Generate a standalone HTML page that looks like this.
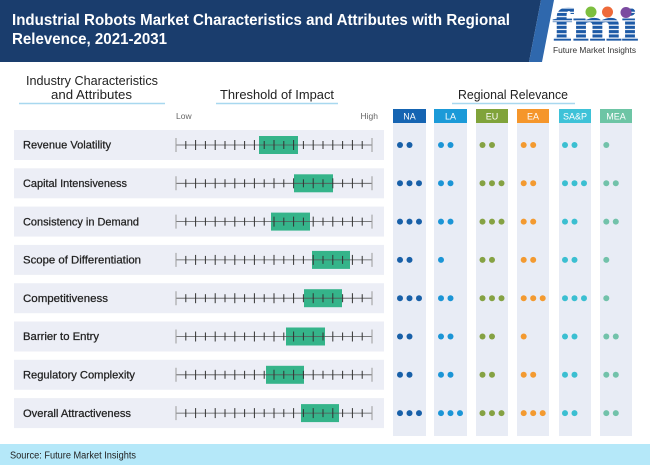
<!DOCTYPE html>
<html><head><meta charset="utf-8"><style>
html,body{margin:0;padding:0;background:#fff;}
svg{display:block;font-family:"Liberation Sans",Arial,sans-serif;}
</style></head><body>
<svg width="650" height="465" viewBox="0 0 650 465" xmlns="http://www.w3.org/2000/svg">
<defs>
<pattern id="stripes" patternUnits="userSpaceOnUse" width="8" height="4.3">
<rect width="8" height="3.2" fill="#1d5aa6"/><rect y="3.2" width="8" height="1.1" fill="#ffffff"/>
</pattern>
<g id="scale">
<line x1="176" y1="0" x2="372" y2="0" stroke="#555" stroke-width="0.8"/>
<line x1="176" y1="-7" x2="176" y2="7" stroke="#9a9a9a" stroke-width="1"/>
<line x1="372" y1="-7" x2="372" y2="7" stroke="#9a9a9a" stroke-width="1"/>
<g stroke="#333" stroke-width="1">
<line x1="185.8" y1="-4" x2="185.8" y2="4"/>
<line x1="195.6" y1="-5" x2="195.6" y2="5"/>
<line x1="205.4" y1="-4" x2="205.4" y2="4"/>
<line x1="215.2" y1="-5" x2="215.2" y2="5"/>
<line x1="225" y1="-4" x2="225" y2="4"/>
<line x1="234.8" y1="-5" x2="234.8" y2="5"/>
<line x1="244.6" y1="-4" x2="244.6" y2="4"/>
<line x1="254.4" y1="-5" x2="254.4" y2="5"/>
<line x1="264.2" y1="-4" x2="264.2" y2="4"/>
<line x1="274" y1="-5" x2="274" y2="5"/>
<line x1="283.8" y1="-4" x2="283.8" y2="4"/>
<line x1="293.6" y1="-5" x2="293.6" y2="5"/>
<line x1="303.4" y1="-4" x2="303.4" y2="4"/>
<line x1="313.2" y1="-5" x2="313.2" y2="5"/>
<line x1="323" y1="-4" x2="323" y2="4"/>
<line x1="332.8" y1="-5" x2="332.8" y2="5"/>
<line x1="342.6" y1="-4" x2="342.6" y2="4"/>
<line x1="352.4" y1="-5" x2="352.4" y2="5"/>
<line x1="362.2" y1="-4" x2="362.2" y2="4"/>
</g>
</g>
</defs>

<!-- Banner -->
<polygon points="0,0 541,0 529,62 0,62" fill="#1a3d6d"/>
<polygon points="541,0 554,0 542,62 529,62" fill="#2f68ad"/>
<text x="12" y="25" font-size="16" font-weight="bold" fill="#ffffff" textLength="498" lengthAdjust="spacingAndGlyphs">Industrial Robots Market Characteristics and Attributes with Regional</text>
<text x="12" y="44" font-size="16" font-weight="bold" fill="#ffffff" textLength="155" lengthAdjust="spacingAndGlyphs">Relevence, 2021-2031</text>

<!-- Logo -->
<text x="553" y="40" font-family="Liberation Serif,serif" font-size="46" font-weight="bold" fill="url(#stripes)" stroke="url(#stripes)" stroke-width="1.2" textLength="85" lengthAdjust="spacingAndGlyphs">fmi</text>
<circle cx="591" cy="12" r="5.5" fill="#7dbf3f"/>
<circle cx="607.5" cy="12" r="5.5" fill="#ee6a3a"/>
<circle cx="626" cy="12.5" r="5.5" fill="#7b4aa0"/>
<text x="553" y="53" font-size="8.5" fill="#333" textLength="83" lengthAdjust="spacingAndGlyphs">Future Market Insights</text>

<!-- Section headings -->
<text x="26" y="85" font-size="13" fill="#222" textLength="132" lengthAdjust="spacingAndGlyphs">Industry Characteristics</text>
<text x="51" y="99" font-size="13" fill="#222" textLength="81" lengthAdjust="spacingAndGlyphs">and Attributes</text>
<line x1="19" y1="103.5" x2="165" y2="103.5" stroke="#a8d8ef" stroke-width="1.5"/>
<text x="220" y="99" font-size="13" fill="#222" textLength="114" lengthAdjust="spacingAndGlyphs">Threshold of Impact</text>
<line x1="216" y1="103.5" x2="338" y2="103.5" stroke="#a8d8ef" stroke-width="1.5"/>
<text x="458" y="99" font-size="13" fill="#222" textLength="110" lengthAdjust="spacingAndGlyphs">Regional Relevance</text>
<line x1="452" y1="103.5" x2="575" y2="103.5" stroke="#a8d8ef" stroke-width="1.5"/>

<text x="176" y="119" font-size="8.5" fill="#666">Low</text>
<text x="378" y="119" font-size="8.5" fill="#666" text-anchor="end">High</text>

<!-- Region columns -->
<g fill="#e8ecf5">
<rect x="393" y="123" width="33" height="313"/>
<rect x="434" y="123" width="33" height="313"/>
<rect x="476" y="123" width="32" height="313"/>
<rect x="517" y="123" width="32" height="313"/>
<rect x="559" y="123" width="32" height="313"/>
<rect x="600" y="123" width="32" height="313"/>
</g>
<rect x="393" y="109" width="33" height="14" fill="#1564b2"/>
<rect x="434" y="109" width="33" height="14" fill="#1b9ad8"/>
<rect x="476" y="109" width="32" height="14" fill="#80a33a"/>
<rect x="517" y="109" width="32" height="14" fill="#f5962b"/>
<rect x="559" y="109" width="32" height="14" fill="#3ec2d8"/>
<rect x="600" y="109" width="32" height="14" fill="#6dc5a5"/>
<g font-size="9" fill="#ffffff" text-anchor="middle">
<text x="409.5" y="119.5">NA</text>
<text x="450.5" y="119.5">LA</text>
<text x="492" y="119.5">EU</text>
<text x="533" y="119.5">EA</text>
<text x="575" y="119.5">SA&amp;P</text>
<text x="616" y="119.5">MEA</text>
</g>

<!-- Rows -->
<g fill="#eceef6">
<rect x="14" y="130" width="370" height="30"/>
<rect x="14" y="168.3" width="370" height="30"/>
<rect x="14" y="206.6" width="370" height="30"/>
<rect x="14" y="244.9" width="370" height="30"/>
<rect x="14" y="283.2" width="370" height="30"/>
<rect x="14" y="321.5" width="370" height="30"/>
<rect x="14" y="359.8" width="370" height="30"/>
<rect x="14" y="398.1" width="370" height="30"/>
</g>

<g font-size="11" fill="#222" stroke="#222" stroke-width="0.25">
<text x="23" y="148.7" textLength="88" lengthAdjust="spacingAndGlyphs">Revenue Volatility</text>
<text x="23" y="187" textLength="104" lengthAdjust="spacingAndGlyphs">Capital Intensiveness</text>
<text x="23" y="225.3" textLength="116" lengthAdjust="spacingAndGlyphs">Consistency in Demand</text>
<text x="23" y="263.6" textLength="118" lengthAdjust="spacingAndGlyphs">Scope of Differentiation</text>
<text x="23" y="301.9" textLength="85" lengthAdjust="spacingAndGlyphs">Competitiveness</text>
<text x="23" y="340.2" textLength="76" lengthAdjust="spacingAndGlyphs">Barrier to Entry</text>
<text x="23" y="378.5" textLength="112" lengthAdjust="spacingAndGlyphs">Regulatory Complexity</text>
<text x="23" y="416.8" textLength="108" lengthAdjust="spacingAndGlyphs">Overall Attractiveness</text>
</g>

<!-- Green boxes -->
<g fill="#35b48a">
<rect x="259" y="136" width="39" height="18"/>
<rect x="294" y="174.3" width="39" height="18"/>
<rect x="271" y="212.6" width="39" height="18"/>
<rect x="312" y="250.9" width="38" height="18"/>
<rect x="304" y="289.2" width="38" height="18"/>
<rect x="286" y="327.5" width="39" height="18"/>
<rect x="266" y="365.8" width="38" height="18"/>
<rect x="301" y="404.1" width="38" height="18"/>
</g>

<!-- Scales -->
<use href="#scale" transform="translate(0,145)"/>
<use href="#scale" transform="translate(0,183.3)"/>
<use href="#scale" transform="translate(0,221.6)"/>
<use href="#scale" transform="translate(0,259.9)"/>
<use href="#scale" transform="translate(0,298.2)"/>
<use href="#scale" transform="translate(0,336.5)"/>
<use href="#scale" transform="translate(0,374.8)"/>
<use href="#scale" transform="translate(0,413.1)"/>

<!-- Dots -->
<g fill="#1860a8">
<circle cx="400" cy="145" r="3"/><circle cx="409.5" cy="145" r="3"/>
<circle cx="400" cy="183.3" r="3"/><circle cx="409.5" cy="183.3" r="3"/><circle cx="419" cy="183.3" r="3"/>
<circle cx="400" cy="221.6" r="3"/><circle cx="409.5" cy="221.6" r="3"/><circle cx="419" cy="221.6" r="3"/>
<circle cx="400" cy="259.9" r="3"/><circle cx="409.5" cy="259.9" r="3"/>
<circle cx="400" cy="298.2" r="3"/><circle cx="409.5" cy="298.2" r="3"/><circle cx="419" cy="298.2" r="3"/>
<circle cx="400" cy="336.5" r="3"/><circle cx="409.5" cy="336.5" r="3"/>
<circle cx="400" cy="374.8" r="3"/><circle cx="409.5" cy="374.8" r="3"/>
<circle cx="400" cy="413.1" r="3"/><circle cx="409.5" cy="413.1" r="3"/><circle cx="419" cy="413.1" r="3"/>
</g>
<g fill="#1b95d6">
<circle cx="441" cy="145" r="3"/><circle cx="450.5" cy="145" r="3"/>
<circle cx="441" cy="183.3" r="3"/><circle cx="450.5" cy="183.3" r="3"/>
<circle cx="441" cy="221.6" r="3"/><circle cx="450.5" cy="221.6" r="3"/>
<circle cx="441" cy="259.9" r="3"/>
<circle cx="441" cy="298.2" r="3"/><circle cx="450.5" cy="298.2" r="3"/>
<circle cx="441" cy="336.5" r="3"/><circle cx="450.5" cy="336.5" r="3"/>
<circle cx="441" cy="374.8" r="3"/><circle cx="450.5" cy="374.8" r="3"/>
<circle cx="441" cy="413.1" r="3"/><circle cx="450.5" cy="413.1" r="3"/><circle cx="460" cy="413.1" r="3"/>
</g>
<g fill="#85a243">
<circle cx="482.5" cy="145" r="3"/><circle cx="492" cy="145" r="3"/>
<circle cx="482.5" cy="183.3" r="3"/><circle cx="492" cy="183.3" r="3"/><circle cx="501.5" cy="183.3" r="3"/>
<circle cx="482.5" cy="221.6" r="3"/><circle cx="492" cy="221.6" r="3"/><circle cx="501.5" cy="221.6" r="3"/>
<circle cx="482.5" cy="259.9" r="3"/><circle cx="492" cy="259.9" r="3"/>
<circle cx="482.5" cy="298.2" r="3"/><circle cx="492" cy="298.2" r="3"/><circle cx="501.5" cy="298.2" r="3"/>
<circle cx="482.5" cy="336.5" r="3"/><circle cx="492" cy="336.5" r="3"/>
<circle cx="482.5" cy="374.8" r="3"/><circle cx="492" cy="374.8" r="3"/>
<circle cx="482.5" cy="413.1" r="3"/><circle cx="492" cy="413.1" r="3"/><circle cx="501.5" cy="413.1" r="3"/>
</g>
<g fill="#f39a30">
<circle cx="523.7" cy="145" r="3"/><circle cx="533.2" cy="145" r="3"/>
<circle cx="523.7" cy="183.3" r="3"/><circle cx="533.2" cy="183.3" r="3"/>
<circle cx="523.7" cy="221.6" r="3"/><circle cx="533.2" cy="221.6" r="3"/>
<circle cx="523.7" cy="259.9" r="3"/><circle cx="533.2" cy="259.9" r="3"/>
<circle cx="523.7" cy="298.2" r="3"/><circle cx="533.2" cy="298.2" r="3"/><circle cx="542.7" cy="298.2" r="3"/>
<circle cx="523.7" cy="336.5" r="3"/>
<circle cx="523.7" cy="374.8" r="3"/><circle cx="533.2" cy="374.8" r="3"/>
<circle cx="523.7" cy="413.1" r="3"/><circle cx="533.2" cy="413.1" r="3"/><circle cx="542.7" cy="413.1" r="3"/>
</g>
<g fill="#3bbfd1">
<circle cx="565" cy="145" r="3"/><circle cx="574.5" cy="145" r="3"/>
<circle cx="565" cy="183.3" r="3"/><circle cx="574.5" cy="183.3" r="3"/><circle cx="584" cy="183.3" r="3"/>
<circle cx="565" cy="221.6" r="3"/><circle cx="574.5" cy="221.6" r="3"/>
<circle cx="565" cy="259.9" r="3"/><circle cx="574.5" cy="259.9" r="3"/>
<circle cx="565" cy="298.2" r="3"/><circle cx="574.5" cy="298.2" r="3"/><circle cx="584" cy="298.2" r="3"/>
<circle cx="565" cy="336.5" r="3"/><circle cx="574.5" cy="336.5" r="3"/>
<circle cx="565" cy="374.8" r="3"/><circle cx="574.5" cy="374.8" r="3"/>
<circle cx="565" cy="413.1" r="3"/><circle cx="574.5" cy="413.1" r="3"/>
</g>
<g fill="#72c2aa">
<circle cx="606.3" cy="145" r="3"/>
<circle cx="606.3" cy="183.3" r="3"/><circle cx="615.8" cy="183.3" r="3"/>
<circle cx="606.3" cy="221.6" r="3"/><circle cx="615.8" cy="221.6" r="3"/>
<circle cx="606.3" cy="259.9" r="3"/>
<circle cx="606.3" cy="298.2" r="3"/>
<circle cx="606.3" cy="336.5" r="3"/><circle cx="615.8" cy="336.5" r="3"/>
<circle cx="606.3" cy="374.8" r="3"/><circle cx="615.8" cy="374.8" r="3"/>
<circle cx="606.3" cy="413.1" r="3"/><circle cx="615.8" cy="413.1" r="3"/>
</g>

<!-- Source bar -->
<rect x="0" y="444" width="650" height="21" fill="#b5e8f9"/>
<text x="10" y="458.5" font-size="10" fill="#222" textLength="126" lengthAdjust="spacingAndGlyphs">Source: Future Market Insights</text>
</svg>
</body></html>
